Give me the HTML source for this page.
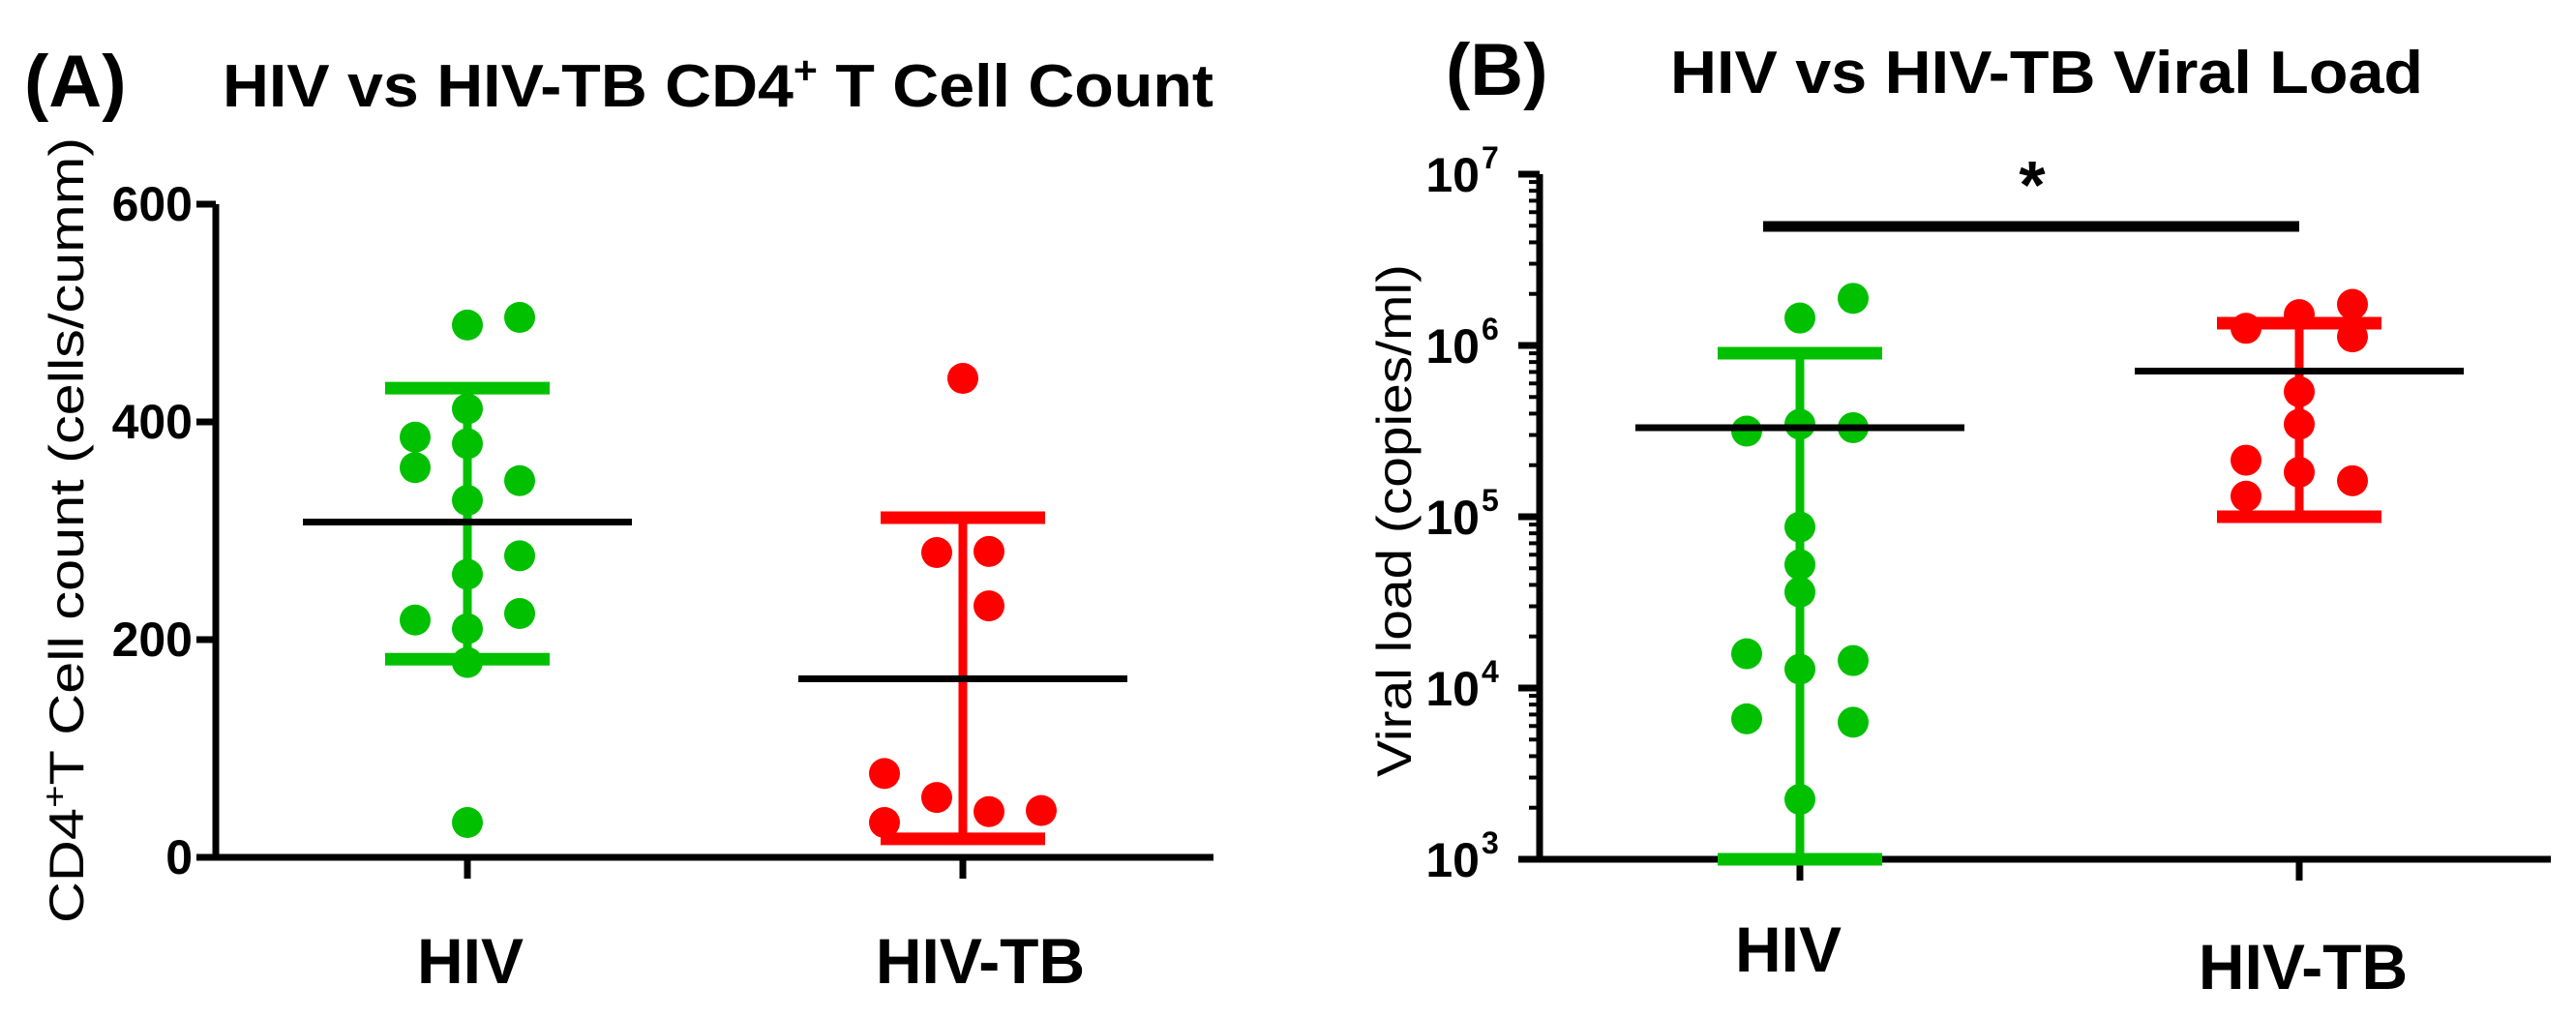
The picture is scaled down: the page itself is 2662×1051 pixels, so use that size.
<!DOCTYPE html>
<html><head><meta charset="utf-8"><style>
html,body{margin:0;padding:0;background:#fff;}
svg{display:block;font-family:"Liberation Sans",Arial,sans-serif;}
</style></head><body>
<svg id="fig" width="2662" height="1051" viewBox="0 0 2662 1051" xmlns="http://www.w3.org/2000/svg">
<g id="pa"></g>
<g id="pb"></g>
</svg>
<script>
// Panel A data
const catsA = ["HIV","HIV-TB"];
const hivCD4 = [489,496,412,386,380,358,346,328,277,260,218,224,210,179,32];
const hivCD4Off = [0,1,0,-1,0,-1,1,0,1,0,-1,1,0,0,0];
const tbCD4 = [440,280,281,231,77,55,32,42,43];
const tbCD4Off = [0,-0.5,0.5,0.5,-1.5,-0.5,-1.5,0.5,1.5];
const meanA = [308,164];
const sdHighA = [431,312];
const sdLowA = [182,17];
const ticksA = [0,200,400,600];
// Panel B data (log10 copies/ml)
const catsB = ["HIV","HIV-TB"];
const hivVL = [6.275,6.16,5.50,5.54,5.52,4.94,4.72,4.56,4.20,4.16,4.11,3.82,3.80,3.35];
const hivVLOff = [1,0,-1,0,1,0,0,0,-1,1,0,-1,1,0];
const tbVL = [6.10,6.18,6.24,6.05,5.73,5.54,5.33,5.26,5.21,5.12];
const tbVLOff = [-1,0,1,1,0,0,-1,0,1,-1];
const meanB = [5.52,5.85];
const sdHighB = [5.955,6.13];
const sdLowB = [3.0,5.0];
const ticksB = [3,4,5,6,7];

const NS="http://www.w3.org/2000/svg";
function mk(parent,tag,attrs,text){const e=document.createElementNS(NS,tag);for(const k in attrs)e.setAttribute(k,attrs[k]);if(text!==undefined)e.textContent=text;parent.appendChild(e);return e;}

const GREEN="#00c000", RED="#ff0000";
const pa=document.getElementById('pa'), pb=document.getElementById('pb');

// ---------- Panel A ----------
const axA={x0:223,x1:1254,y0:886,yTop:211};
const yA=v=>axA.y0-(v/600)*(axA.y0-axA.yTop);
const xA=[483,995];
let t;
t=mk(pa,'text',{x:25,y:110,'font-size':76,'font-weight':'bold'},'(A)');

t=mk(pa,'text',{x:230,y:110,'font-size':62,'font-weight':'bold',textLength:1024,lengthAdjust:'spacingAndGlyphs'});

mk(t,'tspan',{},'HIV vs HIV-TB CD4');mk(t,'tspan',{dy:-24,'font-size':40},'+');mk(t,'tspan',{dy:24},' T Cell Count');
t=mk(pa,'text',{transform:'translate(86,548) rotate(-90)','text-anchor':'middle','font-size':50,textLength:812,lengthAdjust:'spacingAndGlyphs'});

mk(t,'tspan',{},'CD4');mk(t,'tspan',{dy:-18,'font-size':34},'+');mk(t,'tspan',{dy:18},'T Cell count (cells/cumm)');
let l=mk(pa,'path',{d:`M${axA.x0} ${axA.yTop}V${axA.y0}H${axA.x1}`,stroke:'#000','stroke-width':7,fill:'none'});

ticksA.forEach(v=>{const y=yA(v);
 let tk=mk(pa,'line',{x1:axA.x0-20,x2:axA.x0,y1:y,y2:y,stroke:'#000','stroke-width':7});
 
 let tl=mk(pa,'text',{x:axA.x0-24,y:y+17,'text-anchor':'end','font-size':50,'font-weight':'bold'},String(v));
 
});
catsA.forEach((c,i)=>{
 let tk=mk(pa,'line',{x1:xA[i],x2:xA[i],y1:axA.y0,y2:axA.y0+22,stroke:'#000','stroke-width':7});
 
 let tl=mk(pa,'text',{x:xA[i]+(i?18:3),y:1016,'text-anchor':'middle','font-size':66,'font-weight':'bold'},c);
 
});
function group(parent,cx,yf,vals,offs,dx,mean,hi,lo,col,nm){
 let e=mk(parent,'line',{x1:cx,x2:cx,y1:yf(hi),y2:yf(lo),stroke:col,'stroke-width':9});
 
 e=mk(parent,'line',{x1:cx-85,x2:cx+85,y1:yf(hi),y2:yf(hi),stroke:col,'stroke-width':13});
 
 e=mk(parent,'line',{x1:cx-85,x2:cx+85,y1:yf(lo),y2:yf(lo),stroke:col,'stroke-width':13});
 
 vals.forEach((v,i)=>{
  let p=mk(parent,'circle',{cx:cx+offs[i]*dx,cy:yf(v),r:16,fill:col});
  
 });
 e=mk(parent,'line',{x1:cx-170,x2:cx+170,y1:yf(mean),y2:yf(mean),stroke:'#000','stroke-width':7});
 
}
group(pa,xA[0],yA,hivCD4,hivCD4Off,54,meanA[0],sdHighA[0],sdLowA[0],GREEN,'hiv-cd4');
group(pa,xA[1],yA,tbCD4,tbCD4Off,54,meanA[1],sdHighA[1],sdLowA[1],RED,'hivtb-cd4');

// ---------- Panel B ----------
const axB={x0:1591,x1:2636,y0:888,yTop:180};
const yB=v=>axB.y0-(v-3)*(axB.y0-axB.yTop)/4;
const xB=[1860,2376];
t=mk(pb,'text',{x:1494,y:98,'font-size':76,'font-weight':'bold'},'(B)');

t=mk(pb,'text',{x:1726,y:96,'font-size':62,'font-weight':'bold',textLength:778,lengthAdjust:'spacingAndGlyphs'},'HIV vs HIV-TB Viral Load');

t=mk(pb,'text',{transform:'translate(1458,538) rotate(-90)','text-anchor':'middle','font-size':50,textLength:530,lengthAdjust:'spacingAndGlyphs'},'Viral load (copies/ml)');

l=mk(pb,'path',{d:`M${axB.x0} ${axB.yTop}V${axB.y0}H${axB.x1}`,stroke:'#000','stroke-width':7,fill:'none'});

ticksB.forEach(v=>{const y=yB(v);
 let tk=mk(pb,'line',{x1:axB.x0-22,x2:axB.x0,y1:y,y2:y,stroke:'#000','stroke-width':7});
 
 let tl=mk(pb,'text',{x:axB.x0-62,y:y+18,'text-anchor':'end','font-size':50,'font-weight':'bold'},'10');
 
 let ex=mk(pb,'text',{x:axB.x0-60,y:y-6,'font-size':32,'font-weight':'bold'},String(v));
 
 if(v<7){for(let m=2;m<=9;m++){const yy=yB(v+Math.log10(m));
  let mt=mk(pb,'line',{x1:axB.x0-11,x2:axB.x0,y1:yy,y2:yy,stroke:'#000','stroke-width':4});
  }}
});
catsB.forEach((c,i)=>{
 let tk=mk(pb,'line',{x1:xB[i],x2:xB[i],y1:axB.y0,y2:axB.y0+22,stroke:'#000','stroke-width':7});
 
 let tl=mk(pb,'text',{x:xB[i]+(i?4:-12),y:i?1022:1004,'text-anchor':'middle','font-size':66,'font-weight':'bold'},c);
 
});
group(pb,xB[0],yB,hivVL,hivVLOff,55,meanB[0],sdHighB[0],sdLowB[0],GREEN,'hiv-vl');
group(pb,xB[1],yB,tbVL,tbVLOff,55,meanB[1],sdHighB[1],sdLowB[1],RED,'hivtb-vl');
let sb=mk(pb,'line',{x1:1822,x2:2376,y1:234,y2:234,stroke:'#000','stroke-width':11});

let st=mk(pb,'text',{x:2100,y:215,'text-anchor':'middle','font-size':70,'font-weight':'bold'},'*');

</script>
</body></html>
